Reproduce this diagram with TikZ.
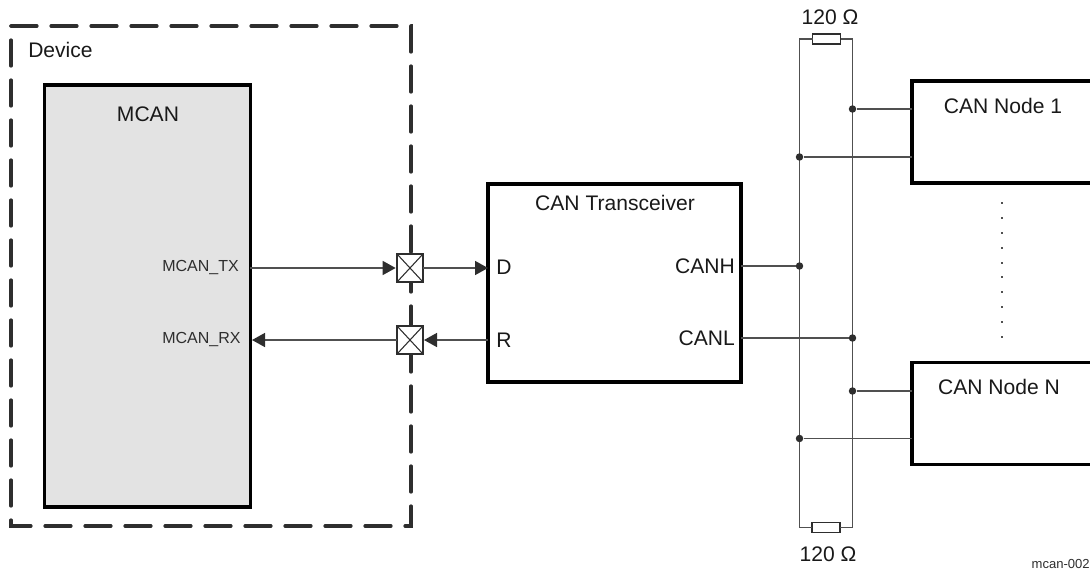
\documentclass[tikz,border=0pt]{standalone}
\usepackage{fontspec}
\setmainfont{Liberation Sans}
\usetikzlibrary{arrows.meta}
\definecolor{wire}{HTML}{505050}
\definecolor{dk}{HTML}{2E2E2E}
\tikzset{
  x=0.75pt,y=-0.75pt,
  blockbox/.style={draw=black,line width=2.3pt,inner sep=0pt,outer sep=0pt},
  wireline/.style={draw=wire,line width=1.15pt},
  sig/.style={wireline,-{Triangle[length=9.75pt,width=10.5pt,fill=dk,color=dk,sep=0pt]},shorten >=0pt},
  dashedge/.style={draw=dk,line width=2.4pt,line cap=round,dash pattern=on 19.5pt off 10.5pt},
  pad/.style={draw=dk,line width=1pt,fill=white,minimum width=19.5pt,minimum height=21pt,inner sep=0pt,outer sep=0pt},
  padx/.style={draw=dk,line width=0.8pt},
  res/.style={draw=dk,line width=1.3pt,fill=white,minimum width=21pt,minimum height=7.5pt,inner sep=0pt,outer sep=0pt},
  junct/.style={circle,fill=dk,minimum size=5.6pt,inner sep=0pt},
  big/.style={font=\fontsize{15.8pt}{18pt}\selectfont,inner sep=0pt,text=black!90},
  small/.style={font=\fontsize{12pt}{14pt}\selectfont,inner sep=0pt,text=dk},
  tiny/.style={font=\fontsize{9.8pt}{12pt}\selectfont,inner sep=0pt,text=dk},
  dotmark/.style={fill=wire,minimum size=1.7pt,inner sep=0pt},
}
\begin{document}
\begin{tikzpicture}
\useasboundingbox (0,0) rectangle (1090,576);
% device outline
\draw[dashedge] (11,26) -- (411,26) -- (411,526) -- (11,526) -- cycle;
\node[big,anchor=base west] (device) at (28,57) {Device};
% blocks
\node[blockbox,fill=black!11,minimum width=154.5pt,minimum height=316.5pt] (mcan) at (147.5,296) {};
\node[big] (mcantitle) at (148,114) {MCAN};
\node[blockbox,fill=white,minimum width=189.75pt,minimum height=148.5pt] (trans) at (614.5,283) {};
\node[big] (transtitle) at (615,203) {CAN Transceiver};
\node[blockbox,fill=white,minimum width=150pt,minimum height=76.5pt] (nodeone) at (1012,132) {};
\node[blockbox,fill=white,minimum width=150pt,minimum height=76.5pt] (noden) at (1012,413.5) {};
\node[big] (nodeonet) at (1003,106) {CAN Node 1};
\node[big] (nodent) at (999,387) {CAN Node N};
% pin labels
\node[small,anchor=west] (tx) at (162,267) {MCAN\_TX};
\node[small,anchor=west] (rx) at (162,339) {MCAN\_RX};
\node[big,anchor=west] (pd) at (496,267) {D};
\node[big,anchor=west] (pr) at (496,340) {R};
\node[big,anchor=east] (ph) at (735,266) {CANH};
\node[big,anchor=east] (pl) at (735,338) {CANL};
% pads
\coordinate (mtx) at (250,268);\coordinate (mrx) at (252,340);
\coordinate (td) at (488,268);\coordinate (tr) at (488,340);
\coordinate (th) at (741,266);\coordinate (tl) at (741,338);
\node[pad] (padtx) at (410,268) {};
\node[pad] (padrx) at (410,340) {};
\draw[padx] (padtx.north west) -- (padtx.south east) (padtx.north east) -- (padtx.south west);
\draw[padx] (padrx.north west) -- (padrx.south east) (padrx.north east) -- (padrx.south west);
\draw[sig] (mtx) -- ([xshift=-1pt]padtx.west);
\draw[sig] (padtx.east) -- (td);
\draw[sig] (tr) -- ([xshift=0.75pt]padrx.east);
\draw[sig] (padrx.west) -- (mrx);
% bus and resistors
\node[res] (rtop) at (826.5,39) {};
\node[res] (rbot) at (826,527.5) {};
\coordinate (ltop) at (799.5,39);\coordinate (rtp) at (852.5,39);
\coordinate (lbot) at (799.5,527.5);\coordinate (rbt) at (852.5,527.5);
\draw[wireline] (rtop.west) -- (ltop) -- (lbot) -- (rbot.west);
\draw[wireline] (rtop.east) -- (rtp) -- (rbt) -- (rbot.east);
\node[big] (rtopt) at (830,17) {120 Ω};
\node[big] (rbott) at (828,554) {120 Ω};
% junctions
\node[junct] (ja) at (852.5,109) {};
\node[junct] (jb) at (799.5,157) {};
\node[junct] (jc) at (799.5,266) {};
\node[junct] (jd) at (852.5,338) {};
\node[junct] (je) at (852.5,391) {};
\node[junct] (jf) at (799.5,438.5) {};
\draw[wireline] (ja) -- (ja -| nodeone.west);
\draw[wireline] (jb) -- (jb -| nodeone.west);
\draw[wireline] (je) -- (je -| noden.west);
\draw[wireline] (jf) -- (jf -| noden.west);
\draw[wireline] (th) -- (jc);
\draw[wireline] (tl) -- (jd);
% ellipsis dots
\foreach \yy [count=\i] in {203,218,233,248,263,277,292,307,322,337}
  \node[dotmark] (dot\i) at (1002,\yy) {};
% figure id
\node[tiny,anchor=east] (figid) at (1090,564) {mcan-002};
\end{tikzpicture}
\end{document}
